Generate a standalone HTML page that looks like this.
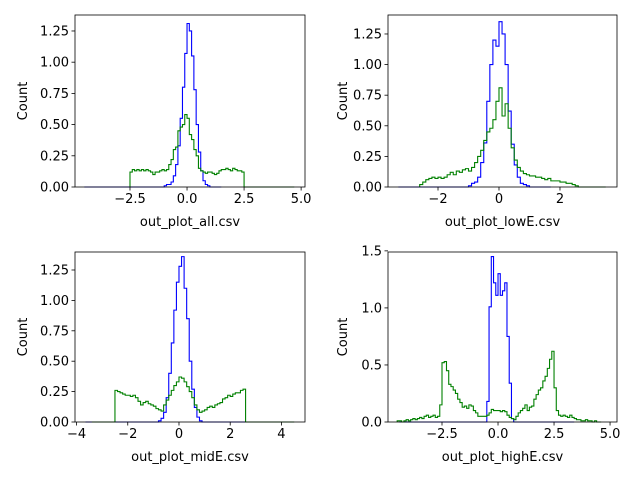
<!DOCTYPE html>
<html><head><meta charset="utf-8"><style>
body{margin:0;background:#fff}
svg text{font-family:"DejaVu Sans","Liberation Sans",sans-serif;fill:#000}
</style></head><body>
<svg id="c" width="640" height="480" xmlns="http://www.w3.org/2000/svg"></svg>
<script>
// ---- data (0.1-wide bins) ----
const titles=["out_plot_all.csv","out_plot_lowE.csv","out_plot_midE.csv","out_plot_highE.csv"];
const xTicks1=[-2.5,0,2.5,5], xTickLabels1=["−2.5","0.0","2.5","5.0"];
const xTicks2=[-2,0,2], xTickLabels2=["−2","0","2"];
const xTicks3=[-4,-2,0,2,4], xTickLabels3=["−4","−2","0","2","4"];
const xTicks4=[-2.5,0,2.5,5], xTickLabels4=["−2.5","0.0","2.5","5.0"];
const yTicksA=[0,0.25,0.5,0.75,1,1.25], yTickLabelsA=["0.00","0.25","0.50","0.75","1.00","1.25"];
const yTicks4=[0,0.5,1,1.5], yTickLabels4=["0.0","0.5","1.0","1.5"];

const blue1=[.01,.02,.02,.04,.09,.18,.33,.55,.80,1.07,1.31,1.25,1.05,.78,.50,.28,.13,.05,.02,.01];
const green1=[.12,.14,.13,.14,.13,.14,.13,.14,.13,.12, .10,.12,.12,.13,.14,.13,.14,.18,.22,.30,
 .32,.45,.48,.50,.58,.55,.42,.38,.30,.25, .15,.13,.12,.11,.12,.12,.11,.10,.11,.13, .14,.14,.15,.14,.13,.15,.14,.13,.13,.12];
const blue2=[.01,.03,.04,.08,.20,.36,.70,1.00,1.20,1.15,1.35,1.25,1.00,.62,.35,.18,.08,.03,.02,.01];
const green2=[.02,.04,.06,.07,.08,.07,.08,.07,.08,.10, .12,.10,.13,.12,.14,.15,.13,.16,.20,.25,
 .30,.38,.45,.48,.55,.70,.81,.58,.68,.48, .32,.22,.16,.13,.11,.10,.09,.09,.08,.08, .07,.06,.07,.05,.05,.05,.04,.04,.03,.03,.02,.01];
const blue3=[.01,.03,.08,.20,.40,.65,.92,1.15,1.28,1.36,1.10,.85,.50,.27,.12,.04,.01];
const green3=[.26,.25,.24,.23,.22,.22,.21,.22,.20,.17, .14,.16,.17,.15,.14,.13,.11,.10,.09,.14,
 .18,.22,.26,.30,.33,.37,.36,.33,.29,.25, .20,.14,.10,.08,.09,.10,.12,.13,.12,.14, .15,.16,.19,.20,.22,.21,.23,.24,.24,.26,.27];
const blue4=[.18,1.01,1.45,1.22,1.11,1.30,1.11,1.15,1.22,.75,.34,.03];
const green4=[.01,.01,.00,.01,.02,.01,.02,.03,.02,.03, .04,.03,.05,.06,.04,.05,.06,.04,.05,.15,
 .52,.53,.45,.33,.31,.28,.25,.20,.17,.13, .14,.12,.15,.14,.10,.08,.05,.05,.05,.05,
 .06,.08,.11,.10,.10,.10,.09,.10,.09,.06, .04,.03,.02,.05,.08,.10,.12,.15,.10,.13,
 .14,.20,.24,.28,.30,.36,.40,.47,.55,.62, .30,.10,.06,.05,.06,.05,.04,.06,.04,.03, .02,.02,.01,.01,.02,.01,.01,.00,.01,.00,.00];

const panels=[
 {box:[75,15,305,187],xr:[-4.91,5.17],yr:[0,1.378],xt:xTicks1,xl:xTickLabels1,yt:yTicksA,yl:yTickLabelsA,cx:27,
  series:[{v:blue1,s:-1.0,lo:-4.5,hi:1.5,c:"#0000ff",n:"blue"},{v:green1,s:-2.5,lo:-2.5,hi:4.7,c:"#008000",n:"green"}]},
 {box:[388,15,617,187],xr:[-3.64,3.87],yr:[0,1.405],xt:xTicks2,xl:xTickLabels2,yt:yTicksA,yl:yTickLabelsA,cx:347,
  series:[{v:blue2,s:-1.0,lo:-3.3,hi:1.7,c:"#0000ff",n:"blue"},{v:green2,s:-2.6,lo:-2.6,hi:3.5,c:"#008000",n:"green"}]},
 {box:[75,252,305,422],xr:[-4.06,4.92],yr:[0,1.398],xt:xTicks3,xl:xTickLabels3,yt:yTicksA,yl:yTickLabelsA,cx:27,
  series:[{v:blue3,s:-0.8,lo:-3.65,hi:3.55,c:"#0000ff",n:"blue"},{v:green3,s:-2.5,lo:-3.4,hi:4.5,c:"#008000",n:"green"}]},
 {box:[388,252,617,422],xr:[-4.91,5.31],yr:[0,1.49],xt:xTicks4,xl:xTickLabels4,yt:yTicks4,yl:yTickLabels4,cx:347,
  series:[{v:blue4,s:-0.5,lo:-4.4,hi:3.4,c:"#0000ff",n:"blue"},{v:green4,s:-4.5,lo:-4.5,hi:4.6,c:"#008000",n:"green"}]}
];
const NS="http://www.w3.org/2000/svg";
const svg=document.getElementById("c");
function mk(tag,attrs,parent){const e=document.createElementNS(NS,tag);for(const k in attrs)e.setAttribute(k,attrs[k]);(parent||svg).appendChild(e);return e;}
panels.forEach((p,i)=>{
  const [L,T,R,B]=p.box;
  const X=v=>L+(v-p.xr[0])/(p.xr[1]-p.xr[0])*(R-L);
  const Y=v=>B-(v-p.yr[0])/(p.yr[1]-p.yr[0])*(B-T);
  const g=mk("g",{});
  
  
  p.series.forEach(s=>{
    let d="M"+X(s.lo)+","+Y(0)+"H"+X(s.s);
    s.v.forEach((v,k)=>{d+="V"+Y(v)+"H"+X(s.s+(k+1)*0.1);});
    d+="V"+Y(0)+"H"+X(s.hi);
    const pa=mk("path",{d:d,fill:"none",stroke:s.c,"stroke-width":1.1},g);
    
    
  });
  const fr=mk("rect",{x:L,y:T,width:R-L,height:B-T,fill:"none",stroke:"#000","stroke-width":0.8},g);
  
  
  p.xt.forEach((t,k)=>{
    mk("line",{x1:X(t),x2:X(t),y1:B,y2:B+3.5,stroke:"#000","stroke-width":0.8},g);
    const tx=mk("text",{x:X(t),y:B+16,"font-size":"13","text-anchor":"middle"},g);
    tx.textContent=p.xl[k];
    
    
  });
  p.yt.forEach((t,k)=>{
    mk("line",{x1:L,x2:L-3.5,y1:Y(t),y2:Y(t),stroke:"#000","stroke-width":0.8},g);
    const tx=mk("text",{x:L-6,y:Y(t)+4.5,"font-size":"13","text-anchor":"end"},g);
    tx.textContent=p.yl[k];
    
    
  });
  const xt=mk("text",{x:(L+R)/2,y:B+39,"font-size":"13","text-anchor":"middle"},g);
  xt.textContent=titles[i];
  
  
  const cx=p.cx, cy=(T+B)/2;
  const yt=mk("text",{x:cx,y:cy,"font-size":"13","text-anchor":"middle",transform:"rotate(-90 "+cx+" "+cy+")"},g);
  yt.textContent="Count";
  
  
});
</script>
</body></html>
